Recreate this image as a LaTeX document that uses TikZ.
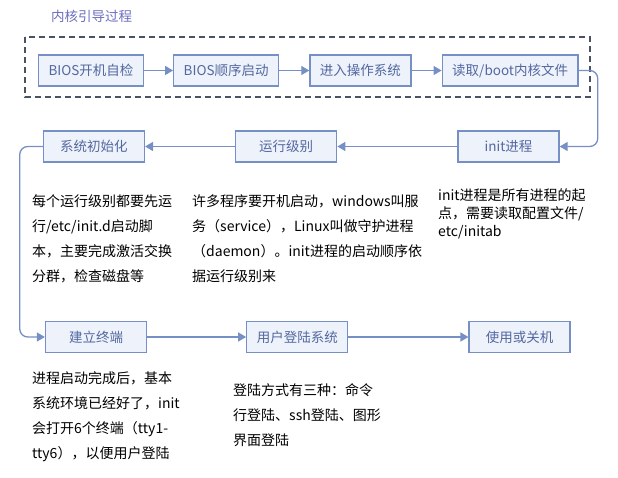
\documentclass[tikz,border=0pt]{standalone}
\usepackage{fontspec}
\setmainfont{Noto Sans CJK SC}
\usetikzlibrary{arrows.meta, positioning}
\definecolor{kline}{RGB}{118,143,196}
\definecolor{ktext}{RGB}{84,104,160}
\definecolor{kfill}{RGB}{237,242,251}
\definecolor{ktitle}{RGB}{108,110,190}
\definecolor{kframe}{RGB}{72,82,98}

\begin{document}
\begin{tikzpicture}[
    x=1pt, y=-1pt,
    stage/.style={draw=kline, line width=1.3pt, fill=kfill, text=ktext, minimum width=101pt, minimum height=31pt, inner xsep=10pt, font=\fontsize{13.5}{16}\selectfont},
    note/.style={anchor=north west, inner sep=0pt, align=left, font=\fontsize{14}{25}\selectfont},
    flow/.style={-{Triangle[length=8pt, width=9pt]}, line width=1.3pt, draw=kline, rounded corners=8pt}
]
    \useasboundingbox (0,0) rectangle (618,478);

    % Kernel boot frame
    \node[anchor=west, inner sep=0pt, text=ktitle, font=\fontsize{13.5}{16}\selectfont] (title) at (51,16) {内核引导过程};
    \draw[kframe, line width=1.3pt, dash pattern=on 6pt off 4pt] (25,37) rectangle (590,97);

    % Row 1
    \node[stage] (bios) at (91,70.5) {BIOS开机自检};
    \node[stage, right=29pt of bios] (order) {BIOS顺序启动};
    \node[stage, right=30pt of order] (enter) {进入操作系统};
    \node[stage, right=30pt of enter] (read) {读取/boot内核文件};

    % Row 2
    \node[stage] (init) at (508.5,146.5) {init进程};
    \node[stage, left=120pt of init] (level) {运行级别};
    \node[stage, left=90pt of level] (sysinit) {系统初始化};

    % Row 3
    \node[stage] (term) at (96,337) {建立终端};
    \node[stage, right=99pt of term] (login) {用户登陆系统};
    \node[stage, right=120pt of login] (halt) {使用或关机};

    % Arrows
    \draw[flow] (bios) -- (order);
    \draw[flow] (order) -- (enter);
    \draw[flow] (enter) -- (read);
    \draw[flow] (read.east) -- ++(19,0) |- (init.east);
    \draw[flow] (init) -- (level);
    \draw[flow] (level) -- (sysinit);
    \draw[flow] (sysinit.west) -- ++(-23,0) |- (term.west);
    \draw[flow] (term) -- (login);
    \draw[flow] (login) -- (halt);

    % Notes
    \node[note] (sysnote) at (32,194) {每个运行级别都要先运\\行/etc/init.d启动脚\\本，主要完成激活交换\\分群，检查磁盘等};
    \node[note] (levelnote) at (192,194) {许多程序要开机启动，windows叫服\\务（service），Linux叫做守护进程\\（daemon）。init进程的启动顺序依\\据运行级别来};
    \node[note, font=\fontsize{14}{18}\selectfont] (initnote) at (438,188) {init进程是所有进程的起\\点，需要读取配置文件/\\etc/initab};
    \node[note] (termnote) at (32,371) {进程启动完成后，基本\\系统环境已经好了，init\\会打开6个终端（tty1-\\tty6），以便用户登陆};
    \node[note] (loginnote) at (233,383) {登陆方式有三种：命令\\行登陆、ssh登陆、图形\\界面登陆};
\end{tikzpicture}
\end{document}
